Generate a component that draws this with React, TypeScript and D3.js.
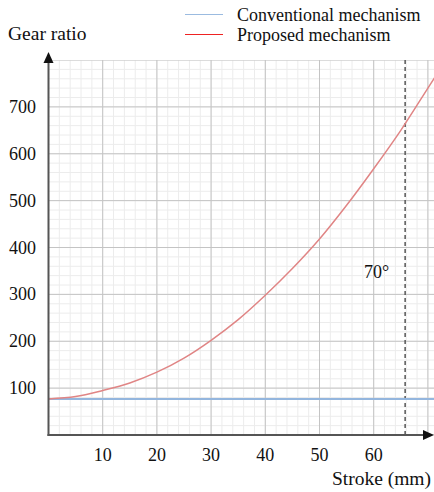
import React from 'react';
import * as d3 from 'd3';

// values
const strokes = [0, 5, 10, 15, 20, 25, 30, 35, 40, 45, 50, 55, 60, 65, 70, 72];
const proposed = [77, 82, 95, 111, 134, 164, 202, 246, 298, 355, 418, 490, 568, 650, 740, 776];
const conventional = 77;
const xTicks = [10, 20, 30, 40, 50, 60];
const yTicks = [100, 200, 300, 400, 500, 600, 700];
const markerStroke = 65.8;
const markerLabel = '70°';

const W = 434;
const H = 492;
const font = "'Liberation Serif', 'DejaVu Serif', 'Noto Serif', serif";

const App = () => {
  const x = d3.scaleLinear().domain([0, 72]).range([48.5, 48.5 + 5.42 * 72]);
  const y = d3.scaleLinear().domain([0, 800]).range([435, 60]);

  const minorX = d3.range(0, 73, 2);
  const majorX = d3.range(0, 73, 10);
  const minorY = d3.range(0, 801, 20);
  const majorY = d3.range(0, 801, 100);

  const line = d3.line<number>()
    .x((d, i) => x(strokes[i]))
    .y(d => y(d))
    .curve(d3.curveCatmullRom);

  const x0 = x(0);
  const y0 = y(0);
  const ts = { fontFamily: font, fontSize: 18 };
  const title = { fontFamily: font, fontSize: 19.5 };

  return (
    <svg width={W} height={H} style={{ position: 'absolute', left: 0, top: 0, background: '#fff' }}>
      <defs>
        <clipPath id="plot">
          <rect x={x0} y={y(800)} width={W - x0} height={y0 - y(800)} />
        </clipPath>
      </defs>
      <g clipPath="url(#plot)">
        {minorX.map(v => <line key={'mx' + v} x1={x(v)} x2={x(v)} y1={y(800)} y2={y0} stroke="#ececec" strokeWidth={1} />)}
        {minorY.map(v => <line key={'my' + v} x1={x0} x2={W} y1={y(v)} y2={y(v)} stroke="#ececec" strokeWidth={1} />)}
        {majorX.map(v => <line key={'Mx' + v} x1={x(v)} x2={x(v)} y1={y(800)} y2={y0} stroke="#c4c4c4" strokeWidth={1} />)}
        {majorY.map(v => <line key={'My' + v} x1={x0} x2={W} y1={y(v)} y2={y(v)} stroke="#c4c4c4" strokeWidth={1} />)}
        <line x1={x(markerStroke)} x2={x(markerStroke)} y1={y(800)} y2={y0} stroke="#555" strokeWidth={1.5} strokeDasharray="4,3" />
        <line x1={x0} x2={W} y1={y(conventional)} y2={y(conventional)} stroke="#94b6de" strokeWidth={2} />
        <path d={line(proposed) || ''} fill="none" stroke="#e08585" strokeWidth={1.5} />
      </g>

      {/* axes */}
      <line x1={x0} x2={x0} y1={y0 + 1} y2={62} stroke="#555" strokeWidth={2} />
      <path d={`M${x0},52 L${x0 - 5},63 L${x0 + 5},63 Z`} fill="#111" />
      <line x1={x0 - 1} x2={424} y1={y0} y2={y0} stroke="#555" strokeWidth={2} />
      <path d={`M434,${y0} L423,${y0 - 5} L423,${y0 + 5} Z`} fill="#111" />

      {yTicks.map(v => (
        <text key={'yt' + v} x={36} y={y(v) + 6} textAnchor="end" fill="#111" style={ts}>{v}</text>
      ))}
      {xTicks.map(v => (
        <text key={'xt' + v} x={x(v)} y={461} textAnchor="middle" fill="#111" style={ts}>{v}</text>
      ))}

      <text x={8} y={40} fill="#111" style={title}>Gear ratio</text>
      <text x={431} y={485} textAnchor="end" fill="#111" style={title}>Stroke (mm)</text>
      <text x={364} y={278} fill="#111" style={ts}>{markerLabel}</text>

      {/* legend */}
      <line x1={185} x2={223} y1={14.5} y2={14.5} stroke="#9bbbe0" strokeWidth={1} />
      <text x={237} y={20.5} fill="#111" style={ts}>Conventional mechanism</text>
      <line x1={185} x2={223} y1={34.5} y2={34.5} stroke="#e22" strokeWidth={1} />
      <text x={237} y={40.5} fill="#111" style={ts}>Proposed mechanism</text>
    </svg>
  );
};

export default App;
